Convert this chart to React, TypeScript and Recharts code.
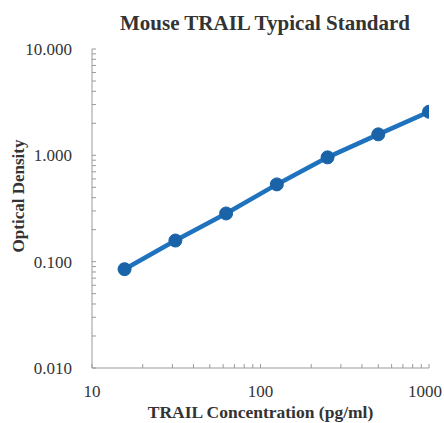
import React from 'react';
import { ComposedChart, Line, XAxis, YAxis } from 'recharts';

// standard curve values
const concentrations = [15.6, 31.25, 62.5, 125, 250, 500, 1000];
const densities = [0.085, 0.158, 0.284, 0.533, 0.957, 1.575, 2.57];

const xMajor = [10, 100, 1000];
const xTicks = [10, 20, 30, 40, 50, 60, 70, 80, 90, 100, 200, 300, 400, 500, 600, 700, 800, 900, 1000];
const yMajor = [0.01, 0.1, 1, 10];
const yTicks = [
  0.01, 0.02, 0.03, 0.04, 0.05, 0.06, 0.07, 0.08, 0.09,
  0.1, 0.2, 0.3, 0.4, 0.5, 0.6, 0.7, 0.8, 0.9,
  1, 2, 3, 4, 5, 6, 7, 8, 9, 10,
];

const data = concentrations.map((c, i) => ({ conc: c, od: densities[i] }));

const axisColor = '#9a9a9a';
const textColor = '#333';
const serif = '"Liberation Serif", "Times New Roman", serif';
const blue = '#1f72bd';

const YTick = (props: any) => {
  const { x, y, payload } = props;
  const major = yMajor.includes(payload.value);
  return (
    <g>
      <line x1={x} x2={x + 4} y1={y} y2={y} stroke={axisColor} />
      {major && (
        <text x={x - 20} y={y} dy={6} textAnchor="end" fontSize={17} fontFamily={serif} fill={textColor}>
          {payload.value.toFixed(3)}
        </text>
      )}
    </g>
  );
};

const XTick = (props: any) => {
  const { x, y, payload } = props;
  const major = xMajor.includes(payload.value);
  // keep the last label inside the picture
  const tx = Math.min(x, 444 - 19);
  return (
    <g>
      <line x1={x} x2={x} y1={y} y2={y - 4} stroke={axisColor} />
      {major && (
        <text x={tx} y={y} dy={29} textAnchor="middle" fontSize={17} fontFamily={serif} fill={textColor}>
          {payload.value}
        </text>
      )}
    </g>
  );
};

export default function App() {
  return (
    <div style={{ position: 'fixed', left: 0, top: 0, width: 444, height: 423, background: '#fff', fontFamily: serif }}>
      <div style={{ position: 'absolute', left: 100, width: 330, top: 11, textAlign: 'center', fontSize: 21, fontWeight: 'bold', color: textColor }}>
        Mouse TRAIL Typical Standard
      </div>
      <div
        style={{
          position: 'absolute', left: 19, top: 196, transform: 'translate(-50%, -50%) rotate(-90deg)',
          whiteSpace: 'nowrap', fontSize: 17, fontWeight: 'bold', color: textColor,
        }}
      >
        Optical Density
      </div>
      <div style={{ position: 'absolute', left: 92, width: 337, top: 402, textAlign: 'center', fontSize: 17.5, fontWeight: 'bold', color: textColor }}>
        TRAIL Concentration (pg/ml)
      </div>
      <ComposedChart width={444} height={423} data={data} margin={{ top: 49, right: 15, bottom: 0, left: 0 }}>
        <XAxis
          dataKey="conc"
          type="number"
          scale="log"
          domain={[10, 1000]}
          ticks={xTicks}
          interval={0}
          height={55}
          tickSize={0}
          tickMargin={0}
          tickLine={false}
          stroke={axisColor}
          tick={<XTick />}
          allowDataOverflow
        />
        <YAxis
          type="number"
          scale="log"
          domain={[0.01, 10]}
          ticks={yTicks}
          interval={0}
          width={92}
          tickSize={0}
          tickMargin={0}
          tickLine={false}
          stroke={axisColor}
          tick={<YTick />}
          allowDataOverflow
        />
        <Line
          dataKey="od"
          type="linear"
          stroke={blue}
          strokeWidth={4.5}
          dot={{ r: 6.5, fill: '#1a63a8', stroke: '#1a63a8', strokeWidth: 1 }}
          isAnimationActive={false}
        />
      </ComposedChart>
    </div>
  );
}
